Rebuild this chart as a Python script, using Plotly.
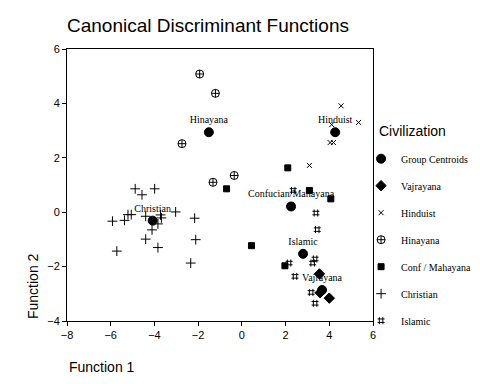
import plotly.graph_objects as go

# ---- data ----
centroid_names = ["Vajrayana", "Hinduist", "Hinayana", "Confucian/Mahayana", "Christian", "Islamic"]
centroid_x = [3.67, 4.27, -1.51, 2.25, -4.08, 2.80]
centroid_y = [-2.86, 2.94, 2.94, 0.21, -0.31, -1.53]

vajrayana_x = [3.55, 3.58, 4.00]
vajrayana_y = [-2.27, -2.96, -3.16]

hinduist_x = [4.54, 5.34, 4.11, 4.04, 4.19, 3.09]
hinduist_y = [3.91, 3.30, 3.22, 2.56, 2.56, 1.72]

hinayana_x = [-1.93, -1.21, -2.74, -0.35, -1.32]
hinayana_y = [5.08, 4.37, 2.52, 1.35, 1.10]

confmahayana_x = [-0.70, 2.10, 3.09, 4.07, 0.44, 1.97]
confmahayana_y = [0.86, 1.63, 0.80, 0.49, -1.23, -1.97]

christian_x = [-4.88, -4.57, -3.99, -5.21, -5.06, -5.92, -5.37, -4.40, -3.72, -3.68,
               -3.84, -3.03, -2.16, -4.11, -4.40, -3.84, -2.11, -5.72, -2.34]
christian_y = [0.86, 0.64, 0.86, -0.09, -0.09, -0.33, -0.30, -0.15, -0.10, -0.21,
               -0.43, 0.01, -0.22, -0.65, -0.99, -1.30, -1.01, -1.43, -1.87]

islamic_x = [3.39, 3.45, 2.35, 2.16, 3.24, 3.35, 2.43, 3.17, 3.35]
islamic_y = [-0.03, -0.64, 0.80, -1.87, -1.87, -1.72, -2.36, -2.95, -3.35]

x_ticks = [-8, -6, -4, -2, 0, 2, 4, 6]
y_ticks = [-4, -2, 0, 2, 4, 6]

SANS = "Liberation Sans, Arial, sans-serif"
SERIF = "Liberation Serif, Times New Roman, serif"
BLACK = "black"

# page body has an 8px default margin; compensate so the plot lands where the reference has it
OFF = 8
ML, MT, PW, PH = 67 - OFF, 49 - OFF, 306, 272

fig = go.Figure()

def add_group(name, xs, ys, symbol, size, text=None):
    fig.add_trace(go.Scatter(
        x=xs, y=ys, name=name, legendgroup=name,
        mode="markers+text" if text else "markers",
        text=text, textposition="top center",
        textfont=dict(family=SERIF, size=10, color=BLACK),
        marker=dict(symbol=symbol, size=size, color=BLACK,
                    line=dict(color=BLACK, width=1)),
        cliponaxis=False,
    ))

add_group("Group Centroids", centroid_x, centroid_y, "circle", 9, text=centroid_names)
add_group("Vajrayana", vajrayana_x, vajrayana_y, "diamond", 8)
add_group("Hinduist", hinduist_x, hinduist_y, "x-thin-open", 5)
add_group("Hinayana", hinayana_x, hinayana_y, "circle-cross-open", 8)
add_group("Conf / Mahayana", confmahayana_x, confmahayana_y, "square", 6)
add_group("Christian", christian_x, christian_y, "cross-thin-open", 7)
add_group("Islamic", islamic_x, islamic_y, "hash-open", 7)

axis_common = dict(
    showgrid=False, zeroline=False, showline=True, linecolor=BLACK, linewidth=1,
    mirror=True, ticks="outside", ticklen=4, tickcolor=BLACK, tickwidth=1,
    tickfont=dict(family=SANS, size=11, color=BLACK),
)

fig.update_layout(
    width=480, height=384,
    margin=dict(l=ML, r=480 - ML - PW, t=MT, b=384 - MT - PH, autoexpand=False),
    paper_bgcolor="white", plot_bgcolor="white",
    title=dict(text="Canonical Discriminant Functions", font=dict(family=SANS, size=19, color=BLACK),
               xref="container", x=ML / 480, xanchor="left", yref="container",
               y=1 - (25 - OFF) / 384, yanchor="middle"),
    xaxis=dict(range=[-8, 6], tickvals=x_ticks, **axis_common),
    yaxis=dict(range=[-4, 6], tickvals=y_ticks, **axis_common),
    showlegend=True,
    legend=dict(
        font=dict(family=SERIF, size=10, color=BLACK),
        x=0.961, xanchor="left", y=0.650, yanchor="top",
        traceorder="grouped", tracegroupgap=8,
        bgcolor="rgba(0,0,0,0)", itemclick=False,
    ),
    annotations=[
        dict(text="Function 1", xref="paper", yref="paper", x=0, y=-46 / PH,
             xanchor="left", yanchor="middle", showarrow=False,
             font=dict(family=SANS, size=14, color=BLACK)),
        dict(text="Function 2", xref="paper", yref="paper", x=-34 / PW, y=0,
             xanchor="center", yanchor="bottom", textangle=-90, showarrow=False,
             font=dict(family=SANS, size=14, color=BLACK)),
        dict(text="Civilization", xref="paper", yref="paper", x=(377 - 67) / PW,
             y=(321 - 131) / PH, xanchor="left", yanchor="middle", showarrow=False,
             font=dict(family=SANS, size=14, color=BLACK)),
    ],
)

fig.write_html("out.html")
